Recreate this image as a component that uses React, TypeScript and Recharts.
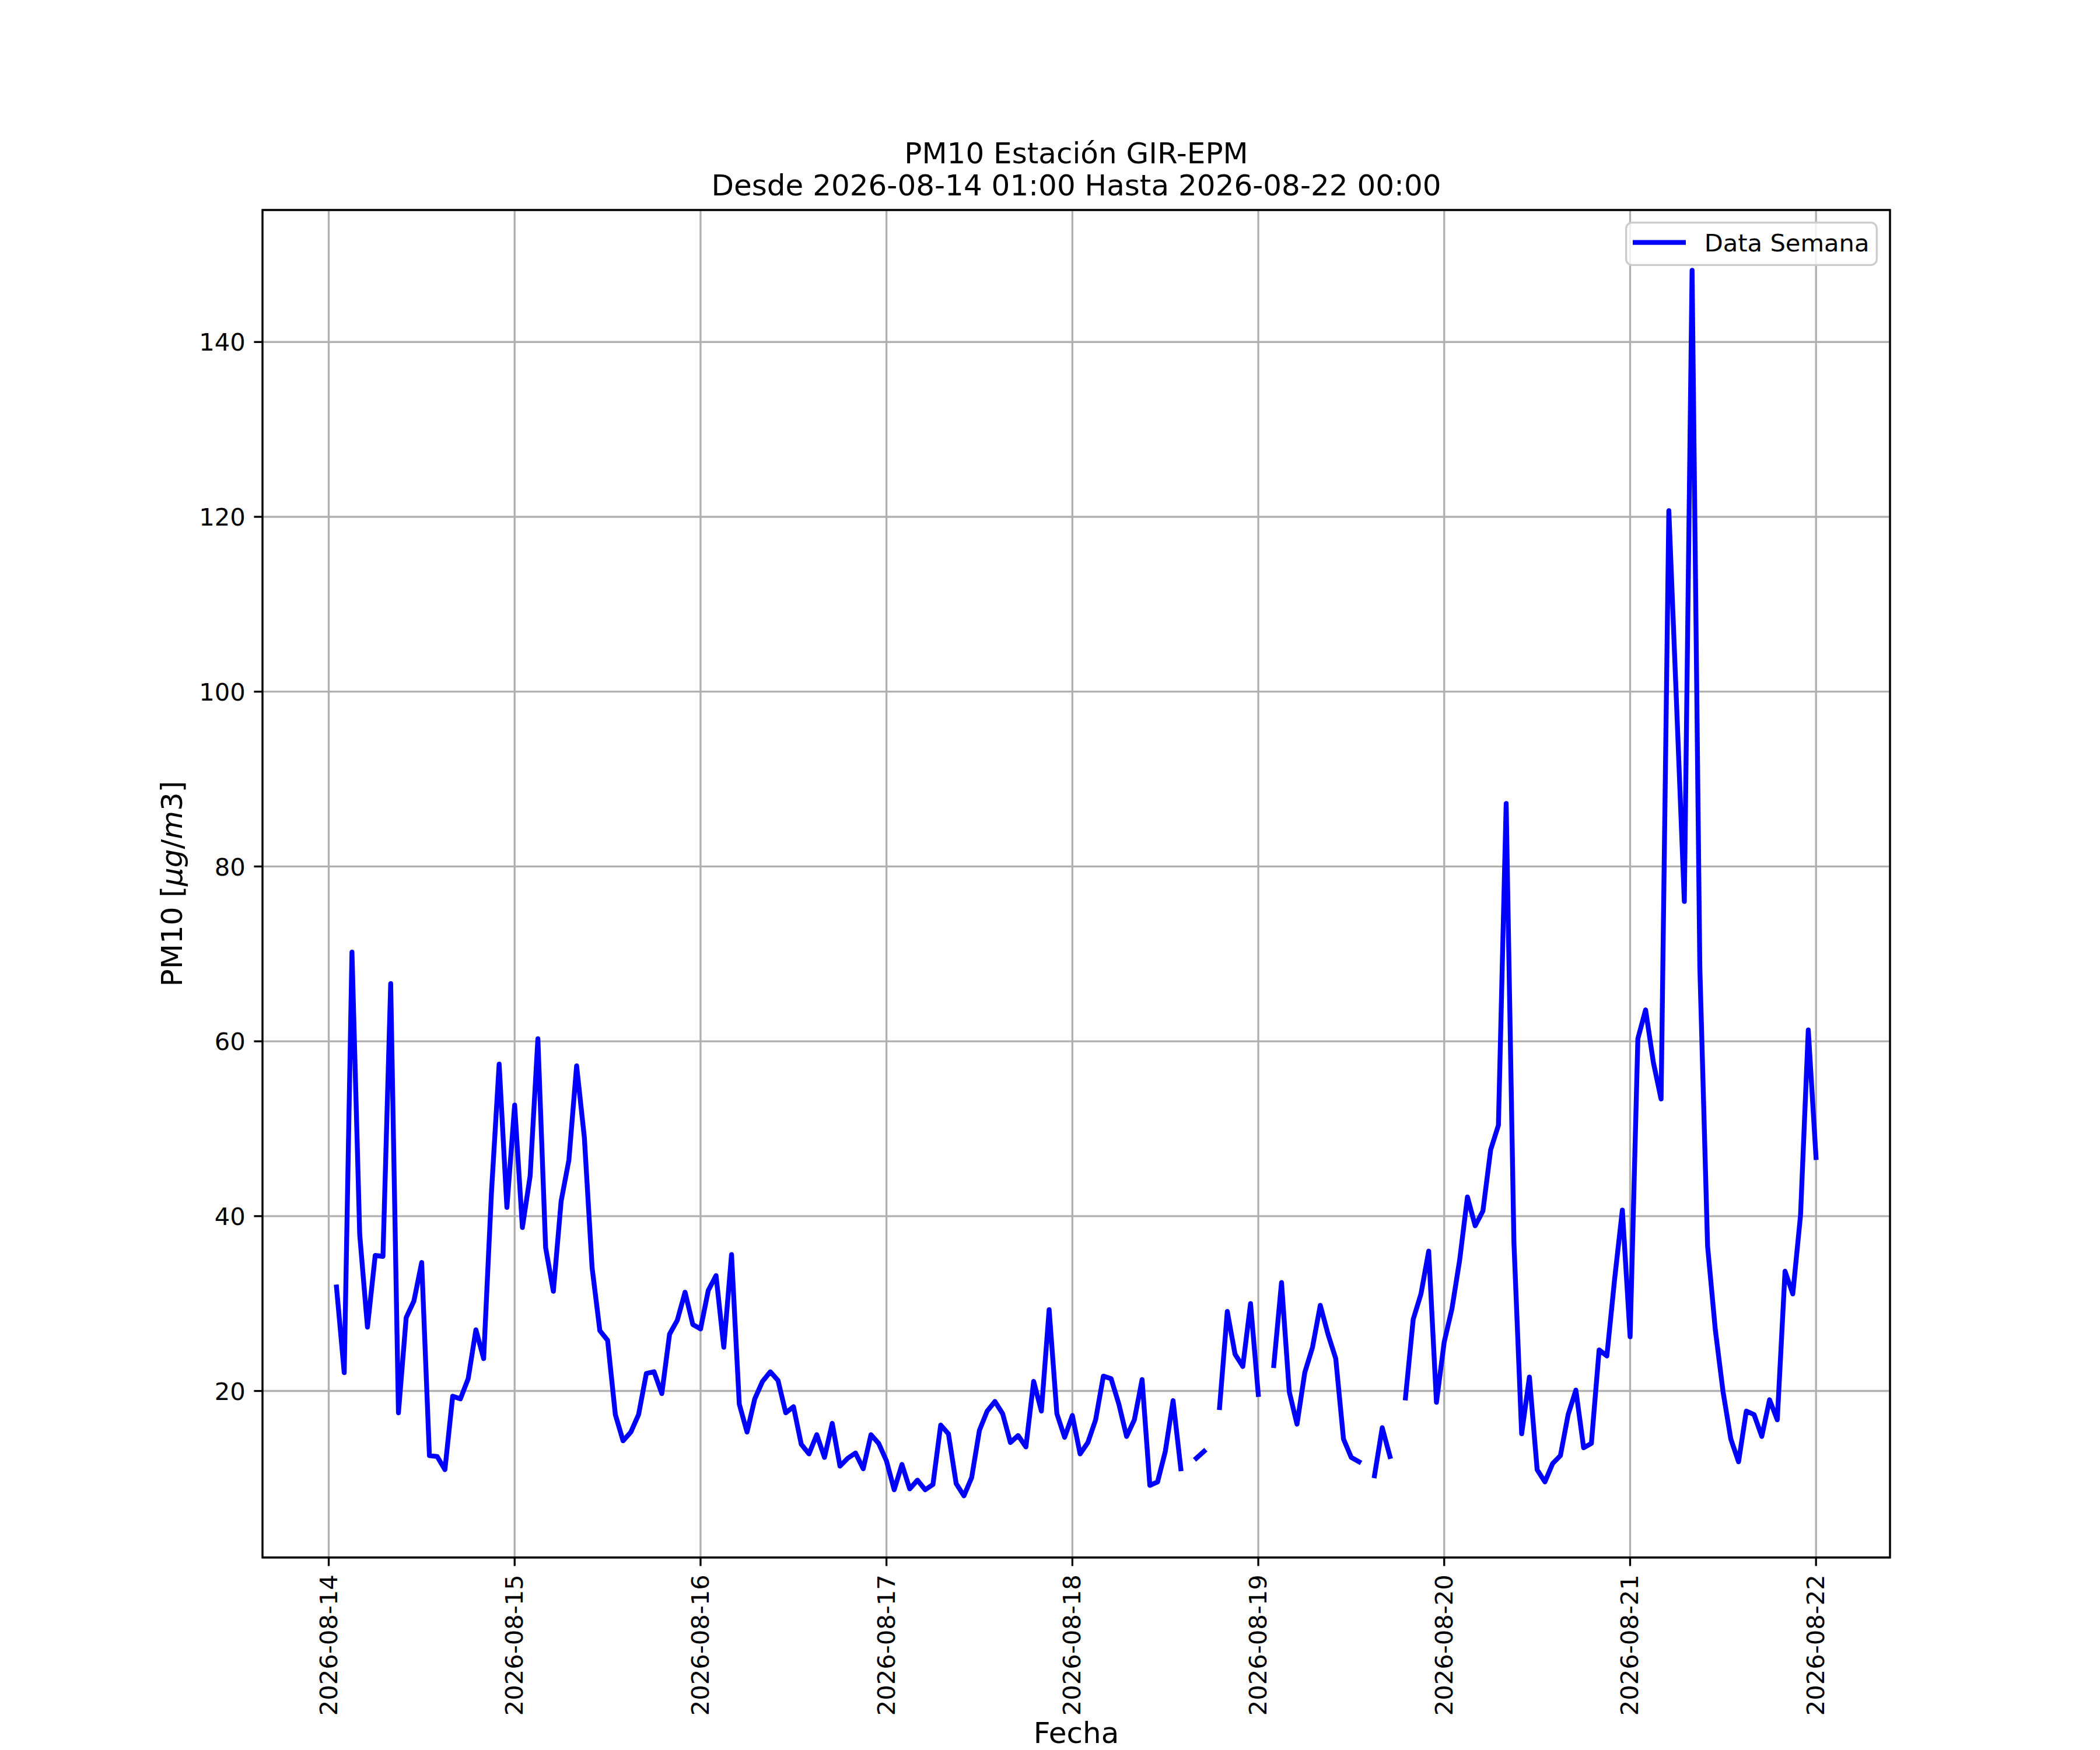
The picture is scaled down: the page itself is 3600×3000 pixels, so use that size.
import React from 'react'
import { LineChart, Line, XAxis, YAxis, CartesianGrid, Legend, ReferenceArea } from 'recharts'

// tick labels on the time axis (one per day, hour offsets from 2026-08-14 00:00)
const DAY_LABELS = ['2026-08-14', '2026-08-15', '2026-08-16', '2026-08-17', '2026-08-18', '2026-08-19', '2026-08-20', '2026-08-21', '2026-08-22'];
const DAY_TICKS = [0, 24, 48, 72, 96, 120, 144, 168, 192];
const Y_TICKS = [20, 40, 60, 80, 100, 120, 140];

// hourly PM10 values, one array per day (01:00 .. 24:00), null = missing hour
const PM10_0814 = [31.9, 22.1, 70.2, 37.9, 27.3, 35.5, 35.4, 66.6, 17.5, 28.4, 30.3, 34.7, 12.6, 12.5, 11.0, 19.4, 19.1, 21.4, 27.0, 23.7, 42.6, 57.4, 41.0, 52.7];
const PM10_0815 = [38.7, 44.6, 60.3, 36.4, 31.4, 41.7, 46.4, 57.2, 49.0, 34.1, 26.9, 25.8, 17.3, 14.3, 15.3, 17.3, 22.0, 22.2, 19.7, 26.5, 28.1, 31.3, 27.6, 27.1];
const PM10_0816 = [31.5, 33.2, 25.0, 35.6, 18.5, 15.3, 19.1, 21.1, 22.2, 21.2, 17.5, 18.2, 13.9, 12.8, 15.0, 12.4, 16.3, 11.4, 12.3, 12.9, 11.1, 15.0, 14.0, 12.0];
const PM10_0817 = [8.7, 11.6, 8.8, 9.8, 8.7, 9.3, 16.1, 15.1, 9.4, 8.0, 10.1, 15.5, 17.7, 18.8, 17.4, 14.1, 14.9, 13.6, 21.1, 17.7, 29.3, 17.4, 14.7, 17.2];
const PM10_0818 = [12.8, 14.1, 16.7, 21.7, 21.4, 18.5, 14.8, 16.7, 21.3, 9.2, 9.6, 13.1, 18.9, 11.1, null, 12.3, 13.1, null, 18.1, 29.1, 24.2, 22.8, 30.0, 19.6];
const PM10_0819 = [null, 22.9, 32.4, 19.9, 16.2, 22.1, 25.0, 29.8, 26.5, 23.7, 14.5, 12.4, 11.9, null, 10.3, 15.8, 12.5, null, 19.2, 28.2, 31.1, 36.0, 18.7, 25.6];
const PM10_0820 = [29.4, 35.0, 42.2, 38.9, 40.6, 47.6, 50.4, 87.2, 37.0, 15.1, 21.6, 11.0, 9.6, 11.7, 12.6, 17.3, 20.1, 13.5, 14.0, 24.7, 24.0, 32.8, 40.7, 26.2];
const PM10_0821 = [60.3, 63.6, 57.6, 53.4, 120.7, 98.5, 76.0, 148.2, 68.5, 36.6, 27.0, 19.9, 14.5, 11.9, 17.7, 17.3, 14.8, 19.0, 16.7, 33.7, 31.1, 40.1, 61.3, 46.7];

const PM10_VALUES: (number | null)[] = [
  ...PM10_0814, ...PM10_0815, ...PM10_0816, ...PM10_0817,
  ...PM10_0818, ...PM10_0819, ...PM10_0820, ...PM10_0821,
];

const data = PM10_VALUES.map((v, i) => ({ hour: i + 1, pm10: v }));

const FONT = '"DejaVu Sans", sans-serif';
const PT = 300 / 72;
const LW = 0.8 * PT;
const SERIES_W = 2 * PT;

const PLOT_LEFT = 450;
const PLOT_RIGHT = 3240;
const PLOT_TOP = 360;
const PLOT_BOTTOM = 2670;
const X_DOMAIN: [number, number] = [-8.55, 201.55];
const Y_DOMAIN: [number, number] = [0.95, 155.1];

const XTick = (props: any) => {
  const { x, y, payload } = props;
  const label = DAY_LABELS[DAY_TICKS.indexOf(payload.value)];
  const bx = x + 14;
  return (
    <text x={bx} y={y} transform={`rotate(-90, ${bx}, ${y})`} textAnchor="end"
      fontSize={10 * PT} fontFamily={FONT} fill="#000">
      {label}
    </text>
  );
};

const YTick = (props: any) => {
  const { x, y, payload } = props;
  return (
    <text x={x} y={y} dy={15.2} textAnchor="end" fontSize={10 * PT} fontFamily={FONT} fill="#000">
      {payload.value}
    </text>
  );
};

const renderXLabel = () => (
  <text x={(PLOT_LEFT + PLOT_RIGHT) / 2} y={2988} textAnchor="middle" fontSize={12 * PT} fontFamily={FONT} fill="#000">
    Fecha
  </text>
);

const renderYLabel = () => {
  const cy = (PLOT_TOP + PLOT_BOTTOM) / 2;
  return (
    <text x={312} y={cy} transform={`rotate(-90, 312, ${cy})`} textAnchor="middle"
      fontSize={12 * PT} fontFamily={FONT} fill="#000">
      PM10 [<tspan fontStyle="italic">μg</tspan>/<tspan fontStyle="italic">m</tspan>3]
    </text>
  );
};

const renderLegend = () => (
  <svg width={433} height={76} style={{ display: 'block' }}>
    <rect x={LW / 2} y={LW / 2} width={433 - LW} height={76 - LW} rx={10} ry={10}
      fill="rgba(255,255,255,0.8)" stroke="#cccccc" strokeWidth={LW} />
    <line x1={13} x2={104} y1={35.7} y2={35.7} stroke="#0000ff" strokeWidth={SERIES_W} />
    <text x={135.7} y={50.7} fontSize={10 * PT} fontFamily={FONT} fill="#000">Data Semana</text>
  </svg>
);

const App: React.FC = () => {
  return (
    <div style={{ position: 'absolute', left: 0, top: 0, width: 3600, height: 3000, background: '#fff' }}>
      <LineChart
        width={3600}
        height={3000}
        data={data}
        margin={{ top: PLOT_TOP, right: 3600 - PLOT_RIGHT, left: PLOT_LEFT - 200, bottom: 30 }}
      >
        <CartesianGrid stroke="#b0b0b0" strokeWidth={LW} />
        <XAxis
          dataKey="hour"
          type="number"
          domain={X_DOMAIN}
          ticks={DAY_TICKS}
          interval={0}
          allowDataOverflow
          height={300}
          axisLine={false}
          tickLine={{ stroke: '#000', strokeWidth: LW }}
          tickSize={3.5 * PT}
          tickMargin={3.5 * PT}
          tick={<XTick />}
          label={renderXLabel}
        />
        <YAxis
          type="number"
          domain={Y_DOMAIN}
          ticks={Y_TICKS}
          interval={0}
          allowDataOverflow
          width={200}
          axisLine={false}
          tickLine={{ stroke: '#000', strokeWidth: LW }}
          tickSize={3.5 * PT}
          tickMargin={3.5 * PT}
          tick={<YTick />}
          label={renderYLabel}
        />
        <Line
          type="linear"
          dataKey="pm10"
          name="Data Semana"
          stroke="#0000ff"
          strokeWidth={SERIES_W}
          strokeLinecap="square"
          strokeLinejoin="round"
          dot={false}
          activeDot={false}
          connectNulls={false}
          isAnimationActive={false}
        />
        <ReferenceArea
          x1={X_DOMAIN[0]}
          x2={X_DOMAIN[1]}
          y1={Y_DOMAIN[0]}
          y2={Y_DOMAIN[1]}
          fill="none"
          stroke="#000"
          strokeWidth={LW}
          ifOverflow="visible"
        />
        <Legend
          layout="vertical"
          align="center"
          verticalAlign="middle"
          content={renderLegend}
          wrapperStyle={{ position: 'absolute', left: 2786, top: 380, width: 433, height: 76 }}
        />
      </LineChart>
      <svg width={3600} height={3000} style={{ position: 'absolute', left: 0, top: 0, pointerEvents: 'none' }}>
        <text x={(PLOT_LEFT + PLOT_RIGHT) / 2} y={280} textAnchor="middle" fontSize={12 * PT} fontFamily={FONT} fill="#000">
          PM10 Estación GIR-EPM
        </text>
        <text x={(PLOT_LEFT + PLOT_RIGHT) / 2} y={335} textAnchor="middle" fontSize={12 * PT} fontFamily={FONT} fill="#000">
          Desde 2026-08-14 01:00 Hasta 2026-08-22 00:00
        </text>
      </svg>
    </div>
  );
};

export default App
